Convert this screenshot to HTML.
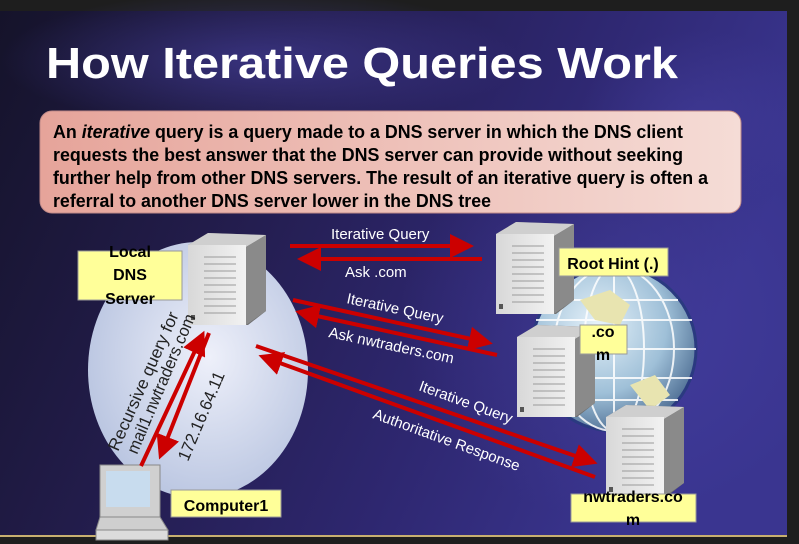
<!DOCTYPE html>
<html><head><meta charset="utf-8"><style>
html,body{margin:0;padding:0;background:#1e1e1e;}
body{width:799px;height:544px;overflow:hidden;position:relative;font-family:"Liberation Sans",sans-serif;}
</style></head><body>
<svg width="799" height="544" viewBox="0 0 799 544" xmlns="http://www.w3.org/2000/svg" style="position:absolute;left:0;top:0">
<defs>
<linearGradient id="bg" x1="0" y1="0" x2="1" y2="0.3">
<stop offset="0" stop-color="#15132a"/><stop offset="0.35" stop-color="#221c4a"/><stop offset="0.7" stop-color="#2e2770"/><stop offset="1" stop-color="#3a3590"/>
</linearGradient>
<radialGradient id="glow1" cx="0.5" cy="0.5" r="0.5"><stop offset="0" stop-color="#4a44a8" stop-opacity="0.8"/><stop offset="1" stop-color="#4a44a8" stop-opacity="0"/></radialGradient>
<radialGradient id="bub" cx="0.55" cy="0.45" r="0.6"><stop offset="0" stop-color="#eef0fa"/><stop offset="1" stop-color="#b8c4e0"/></radialGradient>
<radialGradient id="globe" cx="0.4" cy="0.35" r="0.7"><stop offset="0" stop-color="#e6f2fa"/><stop offset="0.6" stop-color="#9fc0d8"/><stop offset="1" stop-color="#4a6a90"/></radialGradient>
<linearGradient id="box" x1="0" y1="0" x2="1" y2="0"><stop offset="0" stop-color="#e6a49a"/><stop offset="1" stop-color="#f5dcd6"/></linearGradient>
<linearGradient id="srvf" x1="0" y1="0" x2="1" y2="0"><stop offset="0" stop-color="#d8d8d8"/><stop offset="1" stop-color="#f2f2f2"/></linearGradient>
<marker id="ah" markerWidth="6" markerHeight="6" refX="4" refY="3" orient="auto" markerUnits="strokeWidth"><path d="M0,0 L6,3 L0,6 z" fill="#cc0000"/></marker>
<g id="srv">
<path d="M0,12 L20,0 L78,2 L78,78 L60,92 L0,90 z" fill="#6e6e6e"/>
<path d="M0,12 L20,0 L78,2 L58,14 z" fill="#cfcfcf"/>
<path d="M58,14 L78,2 L78,78 L58,92 z" fill="#8a8a8a"/>
<rect x="0" y="12" width="58" height="80" fill="url(#srvf)"/>
<g stroke="#9a9a9a" stroke-width="1"><line x1="16" y1="24" x2="48" y2="24"/><line x1="16" y1="31" x2="48" y2="31"/><line x1="16" y1="38" x2="48" y2="38"/><line x1="16" y1="45" x2="48" y2="45"/><line x1="16" y1="52" x2="48" y2="52"/><line x1="16" y1="59" x2="48" y2="59"/><line x1="16" y1="66" x2="48" y2="66"/><line x1="16" y1="73" x2="48" y2="73"/><line x1="16" y1="80" x2="48" y2="80"/></g>
<rect x="3" y="82" width="4" height="5" fill="#555"/>
</g>
</defs>
<rect x="0" y="11" width="787" height="526" fill="url(#bg)"/>
<ellipse cx="260" cy="60" rx="260" ry="70" fill="url(#glow1)" opacity="0.7"/>
<ellipse cx="620" cy="320" rx="220" ry="200" fill="url(#glow1)" opacity="0.6"/>
<ellipse cx="700" cy="120" rx="120" ry="90" fill="url(#glow1)" opacity="0.5"/>
<rect x="0" y="535" width="787" height="2" fill="#c8b070"/>
<rect x="787" y="0" width="12" height="544" fill="#1e1e1e"/>
<text x="46" y="78" fill="#fff" font-size="44" font-weight="bold" textLength="632" lengthAdjust="spacingAndGlyphs">How Iterative Queries Work</text>
<rect x="40" y="111" width="701" height="102" rx="12" fill="url(#box)" stroke="#c08a88" stroke-width="1"/>
<g font-size="18" font-weight="bold" fill="#000">
<text x="53" y="138" textLength="630" lengthAdjust="spacingAndGlyphs">An <tspan font-style="italic">iterative</tspan> query is a query made to a DNS server in which the DNS client</text>
<text x="53" y="161" textLength="630" lengthAdjust="spacingAndGlyphs">requests the best answer that the DNS server can provide without seeking</text>
<text x="53" y="184" textLength="655" lengthAdjust="spacingAndGlyphs">further help from other DNS servers. The result of an iterative query is often a</text>
<text x="53" y="207" textLength="438" lengthAdjust="spacingAndGlyphs">referral to another DNS server lower in the DNS tree</text>
</g>
<ellipse cx="198" cy="370" rx="110" ry="128" fill="url(#bub)"/>
<circle cx="614" cy="349" r="82" fill="url(#globe)" stroke="#2a3a80" stroke-width="3"/>
<g stroke="#fff" stroke-width="2" fill="none" opacity="0.85">
<ellipse cx="614" cy="349" rx="30" ry="82"/><ellipse cx="614" cy="349" rx="60" ry="82"/><line x1="614" y1="267" x2="614" y2="431"/>
<line x1="536" y1="320" x2="692" y2="320"/><line x1="532" y1="349" x2="696" y2="349"/><line x1="536" y1="378" x2="692" y2="378"/><line x1="550" y1="300" x2="678" y2="300"/><line x1="550" y1="400" x2="678" y2="400"/>
</g>
<path d="M580,300 l30,-10 l20,15 l-10,20 l-25,-5 z M630,385 l25,-10 l15,20 l-20,15 z" fill="#e8e4b0"/>
<use href="#srv" x="188" y="233"/>
<use href="#srv" x="496" y="222"/>
<use href="#srv" x="517" y="325"/>
<use href="#srv" x="606" y="405"/>
<g>
<rect x="100" y="465" width="60" height="52" fill="#d0d0d0" stroke="#888"/>
<rect x="106" y="471" width="44" height="36" fill="#c8dcee"/>
<path d="M100,517 L160,517 L168,530 L96,530 z" fill="#cfcfcf" stroke="#888"/>
<rect x="96" y="530" width="72" height="10" fill="#dcdcdc" stroke="#888"/>
</g>
<g fill="#ffff99" stroke="#999">
<rect x="78" y="251" width="104" height="49"/>
<rect x="559" y="248" width="109" height="28"/>
<rect x="580" y="325" width="47" height="29"/>
<rect x="571" y="494" width="125" height="28"/>
<rect x="171" y="490" width="110" height="27"/>
</g>
<g font-size="16" font-weight="bold" fill="#000" text-anchor="middle">
<text x="130" y="257">Local</text><text x="130" y="280">DNS</text><text x="130" y="304">Server</text>
<text x="613" y="269">Root Hint (.)</text>
<text x="603" y="337">.co</text><text x="603" y="360">m</text>
<text x="633" y="502">nwtraders.co</text><text x="633" y="525">m</text>
<text x="226" y="511">Computer1</text>
</g>
<g stroke="#cc0000" stroke-width="4" fill="none">
<line x1="290" y1="246" x2="466" y2="246" marker-end="url(#ah)"/>
<line x1="482" y1="259" x2="305" y2="259" marker-end="url(#ah)"/>
<line x1="293" y1="300" x2="485" y2="342" marker-end="url(#ah)"/>
<line x1="497" y1="355" x2="303" y2="313" marker-end="url(#ah)"/>
<line x1="256" y1="346" x2="590" y2="461" marker-end="url(#ah)"/>
<line x1="595" y1="477" x2="266" y2="358" marker-end="url(#ah)"/>
<line x1="141" y1="466" x2="201" y2="338" marker-end="url(#ah)"/>
<line x1="209" y1="333" x2="162" y2="452" marker-end="url(#ah)"/>
</g>
<g fill="#fff" font-size="15">
<text x="331" y="239">Iterative Query</text>
<text x="345" y="277">Ask .com</text>
<text x="346" y="303" transform="rotate(12 346 303)">Iterative Query</text>
<text x="328" y="337" transform="rotate(12 328 337)">Ask nwtraders.com</text>
<text x="418" y="390" transform="rotate(20 418 390)">Iterative Query</text>
<text x="372" y="418" transform="rotate(20 372 418)">Authoritative Response</text>
</g>
<g fill="#222" font-size="17">
<text x="118" y="452" transform="rotate(-66 118 452)" textLength="150" lengthAdjust="spacingAndGlyphs">Recursive query for</text>
<text x="137" y="455" transform="rotate(-67 137 455)" textLength="150" lengthAdjust="spacingAndGlyphs">mail1.nwtraders.com</text>
<text x="188" y="462" transform="rotate(-67 188 462)" textLength="95" lengthAdjust="spacingAndGlyphs">172.16.64.11</text>
</g>
</svg>
</body></html>
